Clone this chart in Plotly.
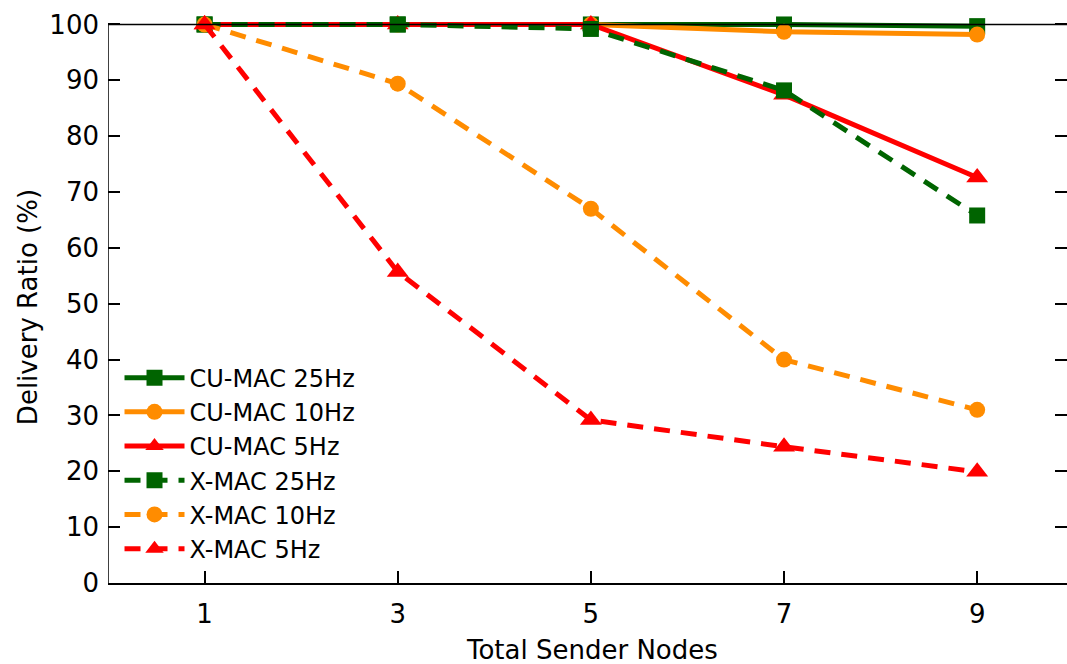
import plotly.graph_objects as go

nodes = [1, 3, 5, 7, 9]
cu_25 = [100, 100, 100, 100, 99.7]
cu_10 = [100, 100, 100, 98.7, 98.2]
cu_5 = [100, 100, 100, 87.4, 72.6]
x_25 = [100, 100, 99.2, 88.2, 65.8]
x_10 = [100, 89.4, 67.0, 40.0, 31.0]
x_5 = [100, 55.7, 29.2, 24.4, 19.9]

series = [
    ("CU-MAC 25Hz", cu_25, "#006400", "solid", "square"),
    ("CU-MAC 10Hz", cu_10, "#ff8c00", "solid", "circle"),
    ("CU-MAC 5Hz", cu_5, "#ff0000", "solid", "triangle-up"),
    ("X-MAC 25Hz", x_25, "#006400", "16px,11px", "square"),
    ("X-MAC 10Hz", x_10, "#ff8c00", "16px,11px", "circle"),
    ("X-MAC 5Hz", x_5, "#ff0000", "16px,11px", "triangle-up"),
]

fig = go.Figure()
for name, vals, color, dash, sym in series:
    size = {"square": 16, "circle": 16, "triangle-up": 19}[sym]
    fig.add_trace(go.Scatter(
        x=nodes, y=vals, name=name, mode="lines+markers",
        line=dict(color=color, width=5, dash=dash),
        marker=dict(color=color, symbol=sym, size=size, line=dict(width=0)),
        cliponaxis=False,
    ))

FONT = "DejaVu Sans"
XMAX = 9.93
fig.update_layout(
    width=1067, height=664,
    margin=dict(l=108, r=0, t=20, b=81),
    plot_bgcolor="white", paper_bgcolor="white",
    font=dict(family=FONT, size=26, color="black"),
    showlegend=True,
    legend=dict(x=0.012, y=0.404, xanchor="left", yanchor="top",
                bgcolor="rgba(0,0,0,0)", font=dict(size=24),
                itemwidth=60, tracegroupgap=0),
    xaxis=dict(range=[0, XMAX], tickvals=nodes, ticks="inside", ticklen=12,
               tickwidth=1.5, tickcolor="black", showline=True, linecolor="black",
               linewidth=1.5, showgrid=False, zeroline=False,
               ticklabelstandoff=7),
    yaxis=dict(range=[0, 100.8], tickvals=list(range(0, 101, 10)), ticks="inside",
               ticklen=12, tickwidth=1.5, tickcolor="black", showline=False,
               mirror="ticks", showgrid=False, zeroline=False,
               ticklabelstandoff=8),
    shapes=[
        dict(type="line", xref="x", yref="y", x0=0, x1=XMAX, y0=100, y1=100,
             line=dict(color="black", width=1.5), layer="above"),
        dict(type="line", xref="x", yref="y", x0=0, x1=0, y0=0, y1=100,
             line=dict(color="black", width=1.5), layer="above"),
    ],
    annotations=[
        dict(text="Total Sender Nodes", xref="paper", yref="paper", x=0.505, y=0,
             yshift=-67, showarrow=False, xanchor="center", yanchor="middle",
             font=dict(size=26)),
        dict(text="Delivery Ratio (%)", xref="paper", yref="paper", x=0, y=0.49,
             xshift=-80, showarrow=False, xanchor="center", yanchor="middle",
             textangle=-90, font=dict(size=26)),
    ],
)

fig.write_html("out.html")
